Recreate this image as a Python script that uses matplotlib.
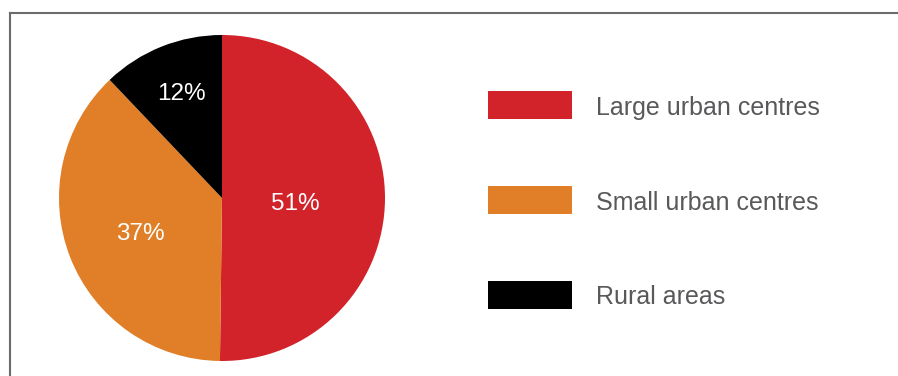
import matplotlib.pyplot as plt
import numpy as np
from matplotlib.patches import Rectangle
from matplotlib.lines import Line2D

# data
categories = ['Large urban centres', 'Small urban centres', 'Rural areas']
shares = [51, 37, 12]                 # printed labels
slice_sizes = [50.2, 37.7, 12.1]      # wedge sizes as drawn in the picture
colors = ['#D2232A', '#E07F27', '#000000']

plt.rcParams['font.family'] = ['Liberation Sans', 'DejaVu Sans']

W, H = 898, 376
fig = plt.figure(figsize=(W / 100, H / 100), dpi=100)

# pie axes, placed in pixels (centre 222,198 radius 163)
cx, cy, r = 222, 198, 163
ax = fig.add_axes([(cx - r) / W, (H - cy - r) / H, 2 * r / W, 2 * r / H])
wedges, _ = ax.pie(slice_sizes, colors=colors, startangle=90, counterclock=False,
                   wedgeprops=dict(linewidth=0))
ax.set_xlim(-1, 1)
ax.set_ylim(-1, 1)
ax.set_aspect('equal')
ax.axis('off')

# percentage labels inside slices (distance, angle nudge in degrees)
label_dist = [0.45, 0.55, 0.686]
label_nudge = [-4.3, 2.5, -0.3]
for w, v, d, dn in zip(wedges, shares, label_dist, label_nudge):
    ang = np.deg2rad((w.theta1 + w.theta2) / 2 + dn)
    ax.text(d * np.cos(ang), d * np.sin(ang), f'{v}%', color='white',
            fontsize=17.5, ha='center', va='center')

# frame lines (top + left) in pixel coordinates
ov = fig.add_axes([0, 0, 1, 1], zorder=-1)
ov.set_xlim(0, W)
ov.set_ylim(H, 0)
ov.axis('off')
ov.add_line(Line2D([10, W], [13, 13], color='#6b6b6b', lw=1.5))
ov.add_line(Line2D([10, 10], [13, H], color='#6b6b6b', lw=1.5))

# legend
ov2 = fig.add_axes([0, 0, 1, 1])
ov2.set_xlim(0, W)
ov2.set_ylim(H, 0)
ov2.axis('off')
ov2.patch.set_alpha(0)
row_y = [105, 200, 295]
for name, c, y in zip(categories, colors, row_y):
    ov2.add_patch(Rectangle((488, y - 14), 84, 28, color=c, lw=0))
    ov2.text(596, y + 2.5, name, color='#58595B', fontsize=18, ha='left', va='center')

fig.savefig('out.png', dpi=100)
